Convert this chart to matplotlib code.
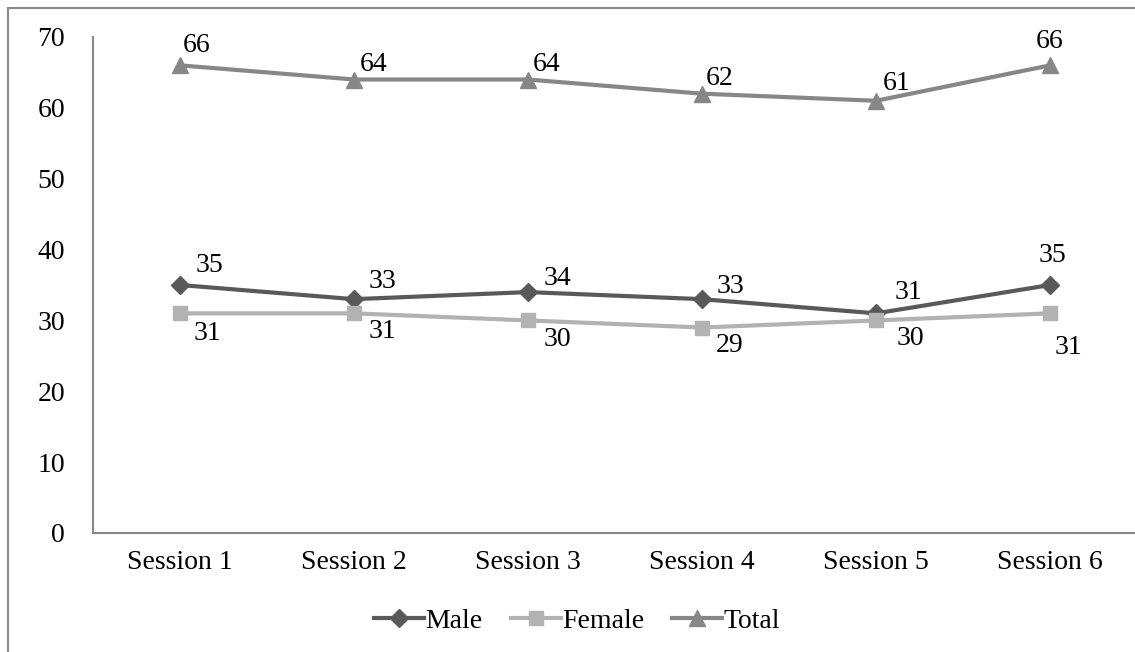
import matplotlib.pyplot as plt
from matplotlib.lines import Line2D

# =========================================================
# DATA
# =========================================================

sessions = ["Session 1", "Session 2", "Session 3", "Session 4", "Session 5", "Session 6"]
male = [35, 33, 34, 33, 31, 35]
female = [31, 31, 30, 29, 30, 31]
total = [66, 64, 64, 62, 61, 66]

# =========================================================
# STYLE
# =========================================================

plt.rcParams["font.family"] = ["Liberation Serif", "DejaVu Serif"]
fs = 20

# label offsets in pixels (dx right, dy down), per point
series = [
    ("Male", male, "#595959", "D", 9, [(29, -20), (28, -18), (29, -14), (28, -13), (32, -21), (2, -29)]),
    ("Female", female, "#b2b2b2", "s", 10, [(27, 20), (28, 18), (29, 19), (28, 18), (34, 18), (18, 34)]),
    ("Total", total, "#878787", "^", 11, [(17, -20), (20, -15), (19, -15), (18, -15), (21, -17), (0, -24)]),
]

# =========================================================
# PLOT
# =========================================================

fig = plt.figure(figsize=(11.35, 6.52), dpi=100)
ax = fig.add_axes([93 / 1135, 119 / 652, 1044 / 1135, 496 / 652])

x = list(range(len(sessions)))

for name, vals, color, marker, ms, offsets in series:
    ax.plot(x, vals, color=color, lw=3, marker=marker, markersize=ms,
            label=name, solid_joinstyle="round")
    for xi, v, (dx, dy) in zip(x, vals, offsets):
        ax.annotate(str(v), (xi, v), xytext=(dx * 0.72, -dy * 0.72),
                    textcoords="offset points", ha="center", va="center",
                    fontsize=fs)

ax.set_xlim(-0.5, 5.5)
ax.set_ylim(0, 70)
ax.set_yticks(range(0, 71, 10))
ax.set_xticks(x)
ax.set_xticklabels(sessions)
ax.tick_params(axis="both", length=0, labelsize=fs)
ax.tick_params(axis="y", pad=20)
ax.tick_params(axis="x", pad=12)

for s in ["top", "right"]:
    ax.spines[s].set_visible(False)
for s in ["left", "bottom"]:
    ax.spines[s].set_color("#878787")
    ax.spines[s].set_linewidth(1.5)

ax.legend(loc="center", bbox_to_anchor=(577 / 1135, 31 / 652),
          bbox_transform=fig.transFigure, ncol=3, frameon=False,
          fontsize=fs, handlelength=1.8, handletextpad=0.05,
          columnspacing=1.0)

# outer border (top and left only, rest cropped)
fig.add_artist(Line2D([8 / 1135, 8 / 1135], [0, 1 - 8 / 652],
                      transform=fig.transFigure, color="#8a8a8a", lw=1.5))
fig.add_artist(Line2D([8 / 1135, 1], [1 - 8 / 652, 1 - 8 / 652],
                      transform=fig.transFigure, color="#8a8a8a", lw=1.5))

fig.savefig("out.png", dpi=100)
